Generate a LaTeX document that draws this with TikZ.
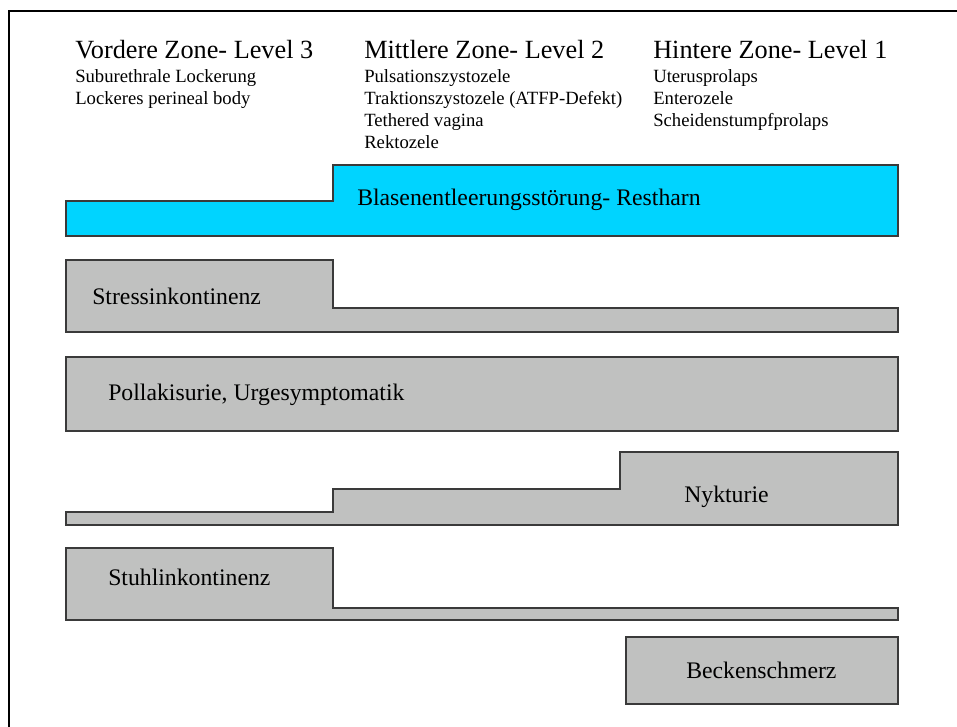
\documentclass[tikz,border=0pt]{standalone}
\usepackage{fontspec}
\setmainfont{Liberation Serif}
\definecolor{blasenblau}{HTML}{00D4FF}
\definecolor{balkengrau}{HTML}{C0C1C0}
\definecolor{kante}{HTML}{3A3A3A}

\begin{document}
\begin{tikzpicture}[x=0.75pt, y=-0.75pt,
  balken/.style={draw=kante, line width=0.9pt, fill=balkengrau},
  zonentitel/.style={anchor=base west, inner sep=0pt, font=\fontsize{19.7}{20}\selectfont},
  zonenliste/.style={anchor=base west, inner sep=0pt, font=\fontsize{14}{16}\selectfont},
  balkentext/.style={anchor=base west, inner sep=0pt, font=\fontsize{17.8}{20}\selectfont}]
\useasboundingbox (0,0) rectangle (957,727);
\draw[line width=1.5pt] (9,727) -- (9,11) -- (957,11);

% Zonen
\node[zonentitel] (vorn) at (75,59) {Vordere Zone- Level 3};
\node[zonentitel] (mitte) at (364,59) {Mittlere Zone- Level 2};
\node[zonentitel] (hinten) at (653,59) {Hintere Zone- Level 1};
\foreach \txt [count=\i] in {Suburethrale Lockerung, Lockeres perineal body}
  \node[zonenliste] (vorn\i) at (75,61+22*\i) {\txt};
\foreach \txt [count=\i] in {Pulsationszystozele, Traktionszystozele (ATFP-Defekt),
    Tethered vagina, Rektozele}
  \node[zonenliste] (mitte\i) at (364,61+22*\i) {\txt};
\foreach \txt [count=\i] in {Uterusprolaps, Enterozele, Scheidenstumpfprolaps}
  \node[zonenliste] (hinten\i) at (653,61+22*\i) {\txt};

% Symptome
\draw[balken, fill=blasenblau] (66,236) -- (66,201) -- (333,201) -- (333,165)
  -- (898,165) -- (898,236) -- cycle;
\node[balkentext] (blase) at (357,206) {Blasenentleerungsstörung- Restharn};

\draw[balken] (66,260) -- (333,260) -- (333,308) -- (898,308) -- (898,332)
  -- (66,332) -- cycle;
\node[balkentext] (stress) at (92,305) {Stressinkontinenz};

\draw[balken] (66,357) rectangle (898,431);
\node[balkentext] (urge) at (108,400) {Pollakisurie, Urgesymptomatik};

\draw[balken] (66,525) -- (66,512) -- (333,512) -- (333,489) -- (620,489)
  -- (620,452) -- (898,452) -- (898,525) -- cycle;
\node[balkentext] (nykt) at (684,502) {Nykturie};

\draw[balken] (66,548) -- (333,548) -- (333,608) -- (898,608) -- (898,620)
  -- (66,620) -- cycle;
\node[balkentext] (stuhl) at (108,585) {Stuhlinkontinenz};

\draw[balken] (626,637) rectangle (898,704);
\node[balkentext] (becken) at (686,678) {Beckenschmerz};
\end{tikzpicture}
\end{document}
